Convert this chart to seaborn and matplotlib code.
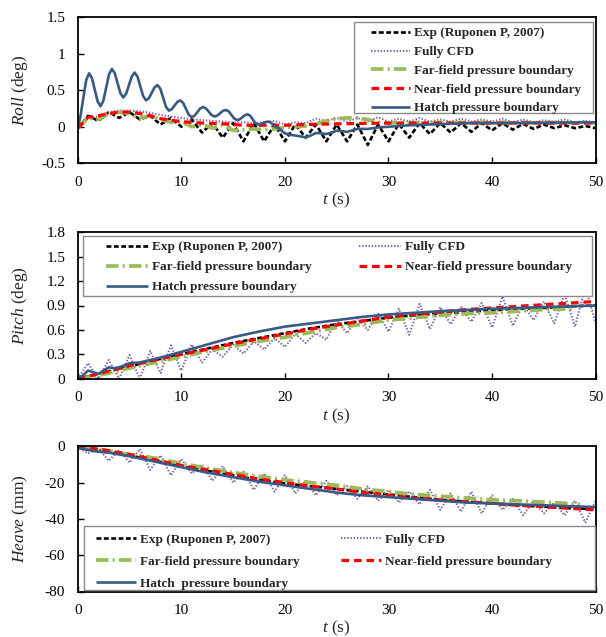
import matplotlib
matplotlib.use("Agg")
import matplotlib.pyplot as plt
import seaborn as sns
from matplotlib.patches import Rectangle

# ---------------- data ----------------
labels = ["Exp (Ruponen P, 2007)", "Fully CFD", "Far-field pressure boundary",
          "Near-field pressure boundary", "Hatch pressure boundary"]
labels_heave = ["Exp (Ruponen P, 2007)", "Fully CFD", "Far-field pressure boundary",
                "Near-field pressure boundary", "Hatch  pressure boundary"]

t_1s = list(range(51))

# Roll (deg)
roll_exp = [-0.03, 0.15, 0.08, 0.20, 0.12, 0.20, 0.10, 0.15, 0.03, 0.12,
            0.00, 0.10, -0.08, 0.05, -0.15, 0.05, -0.20, 0.05, -0.20, 0.03,
            -0.20, 0.03, -0.15, 0.03, -0.20, 0.03, -0.20, 0.03, -0.25, 0.03,
            -0.20, 0.04, -0.15, 0.05, -0.10, 0.05, -0.08, 0.05, -0.07, 0.05,
            -0.05, 0.05, -0.04, 0.04, -0.03, 0.03, -0.02, 0.02, -0.02, 0.01,
            -0.02]
roll_cfd = [-0.02, 0.12, 0.14, 0.20, 0.22, 0.22, 0.21, 0.19, 0.16, 0.14,
            0.12, 0.10, 0.09, 0.08, 0.07, 0.06, 0.06, 0.05, 0.06, 0.08,
            0.03, 0.06, 0.05, 0.11, 0.08, 0.12, 0.07, 0.12, 0.07, 0.13,
            0.07, 0.11, 0.07, 0.12, 0.07, 0.10, 0.07, 0.11, 0.07, 0.10,
            0.07, 0.11, 0.06, 0.10, 0.06, 0.09, 0.07, 0.10, 0.06, 0.08,
            0.06]
roll_far = [-0.02, 0.12, 0.10, 0.18, 0.20, 0.18, 0.12, 0.15, 0.10, 0.06,
            0.08, 0.00, 0.03, -0.02, 0.02, -0.05, -0.04, -0.03, -0.04, -0.03,
            -0.01, 0.00, 0.01, 0.04, 0.08, 0.11, 0.12, 0.12, 0.10, 0.06,
            0.05, 0.06, 0.05, 0.06, 0.05, 0.06, 0.05, 0.06, 0.05, 0.06,
            0.05, 0.06, 0.05, 0.06, 0.05, 0.06, 0.05, 0.06, 0.05, 0.06,
            0.05]
roll_near_t = [0, 1, 2, 3, 4, 5, 6, 7, 8, 9, 10, 12, 14, 16, 18, 20, 22, 25, 30, 35, 40, 45, 50]
roll_near = [-0.02, 0.13, 0.15, 0.18, 0.20, 0.20, 0.18, 0.15, 0.11, 0.09, 0.07, 0.05,
             0.04, 0.02, 0.02, 0.02, 0.03, 0.04, 0.05, 0.05, 0.05, 0.05, 0.05]
roll_hatch_t = [0, 0.275, 0.55, 0.825, 1.1, 1.375, 1.65, 1.925, 2.2, 2.475,
                2.75, 3.025, 3.3, 3.575, 3.85, 4.125, 4.4, 4.675, 4.95, 5.225,
                5.5, 5.775, 6.05, 6.325, 6.6, 6.875, 7.15, 7.425, 7.7, 7.975,
                8.25, 8.525, 8.8, 9.075, 9.35, 9.625, 9.9, 10.175, 10.45, 10.725,
                11.0, 11.275, 11.55, 11.825, 12.1, 12.375, 12.65, 12.925, 13.2, 13.475,
                13.75, 14.025, 14.3, 14.575, 14.85, 15.125, 15.4, 15.65, 15.9, 16.15,
                16.4, 16.65, 16.9, 17.15, 17.4, 17.65, 17.9, 18.15, 18.4, 18.65,
                18.9, 19.15, 19.4, 20, 20.5, 21, 22, 22.5, 23, 23.5,
                24, 24.5, 25, 25.5, 26, 26.5, 27, 28, 29, 30,
                32, 34, 36, 38, 40, 45, 50]
roll_hatch = [-0.02, 0.15, 0.40, 0.64, 0.73, 0.664, 0.505, 0.346, 0.28, 0.354,
              0.535, 0.716, 0.79, 0.733, 0.595, 0.457, 0.40, 0.45, 0.57, 0.69,
              0.74, 0.684, 0.55, 0.416, 0.36, 0.391, 0.465, 0.539, 0.57, 0.519,
              0.395, 0.271, 0.22, 0.24, 0.29, 0.34, 0.36, 0.326, 0.245, 0.164,
              0.13, 0.15, 0.20, 0.25, 0.27, 0.251, 0.205, 0.159, 0.14, 0.153,
              0.185, 0.217, 0.23, 0.21, 0.16, 0.11, 0.09, 0.102, 0.13, 0.158,
              0.17, 0.15, 0.10, 0.05, 0.03, 0.036, 0.05, 0.064, 0.07, 0.057,
              0.025, -0.007, -0.02, -0.09, -0.11, -0.12, -0.145, -0.12, -0.085, -0.09,
              -0.10, -0.08, -0.055, -0.06, -0.07, -0.05, -0.03, -0.03, -0.01, 0.00,
              0.02, 0.03, 0.04, 0.05, 0.05, 0.055, 0.06]

# Pitch (deg)
pitch_t = [0, 2, 5, 7.5, 10, 12.5, 15, 17.5, 20, 22.5, 25, 27.5, 30, 32.5, 35,
           37.5, 40, 42.5, 45, 47.5, 50]
pitch_exp = [0, 0.06, 0.15, 0.23, 0.30, 0.37, 0.44, 0.50, 0.56, 0.62, 0.67, 0.71,
             0.75, 0.78, 0.80, 0.82, 0.84, 0.86, 0.87, 0.89, 0.90]
pitch_near = [0, 0.06, 0.16, 0.23, 0.30, 0.36, 0.43, 0.49, 0.55, 0.61, 0.66, 0.71,
              0.76, 0.79, 0.82, 0.85, 0.87, 0.89, 0.91, 0.93, 0.95]
pitch_far_t = [0, 2, 5, 7.5, 10, 12.5, 15, 17.5, 20, 22.5, 25, 27.5, 30, 32.5, 35,
               37.5, 40, 42.5, 45, 48]
pitch_far = [0, 0.04, 0.13, 0.20, 0.27, 0.34, 0.40, 0.46, 0.51, 0.57, 0.63, 0.67,
             0.72, 0.75, 0.78, 0.80, 0.81, 0.83, 0.85, 0.86]
pitch_hatch_t = [0, 0.5, 1, 1.5, 2, 2.5, 3, 3.5, 4, 5, 6, 7, 8, 10, 12.5, 15, 17.5,
                 20, 22.5, 25, 27.5, 30, 35, 40, 45, 50]
pitch_hatch = [0, 0.04, 0.10, 0.08, 0.06, 0.10, 0.14, 0.13, 0.14, 0.19, 0.20, 0.23,
               0.26, 0.33, 0.42, 0.51, 0.58, 0.64, 0.68, 0.72, 0.76, 0.79, 0.83,
               0.86, 0.88, 0.90]
pitch_cfd = [0.00, 0.19, 0.00, 0.23, 0.00, 0.29, 0.00, 0.34, 0.07, 0.41,
             0.10, 0.42, 0.20, 0.36, 0.27, 0.42, 0.31, 0.46, 0.36, 0.50,
             0.39, 0.55, 0.44, 0.56, 0.48, 0.72, 0.56, 0.74, 0.60, 0.80,
             0.58, 0.86, 0.54, 0.92, 0.61, 0.88, 0.67, 0.88, 0.70, 0.93,
             0.63, 1.01, 0.65, 0.91, 0.72, 0.95, 0.68, 1.04, 0.64, 1.13,
             0.68]

# Heave (mm)
heave_t = [0, 2.5, 5, 7.5, 10, 12.5, 15, 17.5, 20, 22.5, 25, 27.5, 30, 32.5, 35,
           37.5, 40, 42.5, 45, 47.5, 50]
heave_exp = [0, -2.5, -5, -8, -11, -13.5, -16, -18.5, -20.5, -22, -23.5, -25,
             -26.5, -28, -29.5, -30.5, -31.5, -32.5, -33.3, -34, -34.7]
heave_near = [0, -2, -4.5, -7.5, -10.5, -13, -15.5, -18, -20, -22, -23.5, -25.5,
              -27, -28.5, -29.5, -30.5, -31.5, -32.5, -33.3, -34.2, -35]
heave_far_t = [0, 2.5, 5, 7.5, 10, 12.5, 15, 17.5, 20, 22.5, 25, 27.5, 30, 32.5,
               35, 37.5, 40, 42.5, 45, 47.5, 48.5]
heave_far = [0, -2, -4.5, -6.5, -9.5, -12, -14.5, -16.5, -18.5, -20, -21.5, -23.5,
             -25, -26.5, -27.5, -28.5, -29.5, -30, -30.8, -31.5, -32]
heave_hatch_t = [0, 1, 2, 3, 4, 5, 7.5, 10, 12.5, 15, 17.5, 20, 22.5, 25, 27.5, 30,
                 32.5, 35, 37.5, 40, 42.5, 45, 47.5, 50]
heave_hatch = [-1, -2, -3, -3.5, -4.5, -5.5, -8.5, -11.5, -14.5, -17, -19.5, -21.5,
               -23.5, -25.5, -27, -28, -29, -30, -31, -31.5, -32, -32.5, -33, -33.5]
heave_cfd = [0, -4, -1, -8, -2, -9, -1.5, -13, -5, -16,
             -7, -15, -10, -19, -11, -20, -14, -24, -15, -25,
             -16, -26, -19, -27, -19, -27, -22, -29, -22, -30,
             -24, -31, -25, -32, -24, -35, -26, -36, -25, -37,
             -27, -35, -29, -38, -30, -37, -31, -38, -30, -42,
             -30]

x_ticks = [0, 10, 20, 30, 40, 50]
roll_ticks = [-0.5, 0, 0.5, 1, 1.5]
roll_ticklabels = ["-0.5", "0", "0.5", "1", "1.5"]
pitch_ticks = [0, 0.3, 0.6, 0.9, 1.2, 1.5, 1.8]
pitch_ticklabels = ["0", "0.3", "0.6", "0.9", "1.2", "1.5", "1.8"]
heave_ticks = [-80, -60, -40, -20, 0]
heave_ticklabels = ["-80", "-60", "-40", "-20", "0"]

# ---------------- style ----------------
sns.set_theme(style="white")
plt.rcParams["font.family"] = ["Liberation Serif", "DejaVu Serif"]
plt.rcParams["mathtext.fontset"] = "custom"
plt.rcParams["mathtext.it"] = "Liberation Serif:italic"
plt.rcParams["mathtext.rm"] = "Liberation Serif"
plt.rcParams["lines.scale_dashes"] = False
plt.rcParams["lines.solid_capstyle"] = "butt"

STY = {
    "exp": dict(color="black", lw=1.9, ls=(0, (3.5, 1.8))),
    "cfd": dict(color="#8064A2", lw=1.5, ls=(0, (1.0, 1.3))),
    "far": dict(color="#9BBB59", lw=2.7, ls=(0, (9, 3, 1.5, 3))),
    "near": dict(color="#FF0000", lw=2.3, ls=(0, (5.5, 3.5))),
    "hatch": dict(color="#3A5A84", lw=1.9, ls="-"),
}

fig = plt.figure(figsize=(6.06, 6.37), dpi=100)
L, W = 77.7 / 606, 518 / 606
ax_roll = fig.add_axes([L, 1 - 163.3 / 637, W, 146.3 / 637])
ax_pitch = fig.add_axes([L, 1 - 378.7 / 637, W, 146.4 / 637])
ax_heave = fig.add_axes([L, 1 - 591.5 / 637, W, 145.2 / 637])


def draw(ax, series):
    lines = []
    for key, t, v in series:
        sns.lineplot(x=t, y=v, ax=ax, sort=False, estimator=None, **STY[key])
        lines.append(ax.get_lines()[-1])
    return lines


def style_axes(ax, ylim, yticks, yticklabels, ylabel):
    ax.set_xlim(0, 50)
    ax.set_ylim(*ylim)
    ax.set_xticks(x_ticks)
    ax.set_xticklabels([str(v) for v in x_ticks])
    ax.set_yticks(yticks)
    ax.set_yticklabels(yticklabels)
    ax.tick_params(direction="in", length=4, width=1.0, pad=9, labelsize=11,
                   colors="black", bottom=True, left=True, top=False, right=False)
    for s in ax.spines.values():
        s.set_color("black")
        s.set_linewidth(1.3)
    ax.set_ylabel(ylabel, fontsize=12.5)
    ax.set_xlabel(r"$\it{t}$ (s)", fontsize=12.5)
    ax.yaxis.set_label_coords(-0.092, 0.5)
    ax.xaxis.set_label_coords(0.5, -0.19)
    ax.set_facecolor("white")


def legend_box(ax, x0, y0, w, h):
    ax.add_patch(Rectangle((x0, y0), w, h, transform=ax.transAxes, facecolor="white",
                           edgecolor="#8a8a8a", lw=1.0, zorder=4, clip_on=False))


leg_prop = dict(family="Liberation Serif", weight="bold", size=9.5)

# Roll
lr = draw(ax_roll, [("exp", t_1s, roll_exp), ("cfd", t_1s, roll_cfd),
                    ("far", t_1s, roll_far), ("near", roll_near_t, roll_near),
                    ("hatch", roll_hatch_t, roll_hatch)])
style_axes(ax_roll, (-0.5, 1.5), roll_ticks, roll_ticklabels, r"$\it{Roll}$ (deg)")
legend_box(ax_roll, 0.533, 0.342, 0.462, 0.624)
leg = ax_roll.legend(lr, labels, loc="upper left", bbox_to_anchor=(0.566, 0.93),
                     prop=leg_prop, frameon=False, handlelength=3.0, handletextpad=0.3,
                     labelspacing=0.49, borderpad=0, borderaxespad=0)
leg.set_zorder(5)

# Pitch
lp = draw(ax_pitch, [("exp", pitch_t, pitch_exp), ("cfd", t_1s, pitch_cfd),
                     ("far", pitch_far_t, pitch_far), ("near", pitch_t, pitch_near),
                     ("hatch", pitch_hatch_t, pitch_hatch)])
style_axes(ax_pitch, (0, 1.8), pitch_ticks, pitch_ticklabels, r"$\it{Pitch}$ (deg)")
legend_box(ax_pitch, 0.0102, 0.565, 0.983, 0.41)
order = [0, 2, 4, 1, 3]
leg = ax_pitch.legend([lp[i] for i in order], [labels[i] for i in order], ncol=2,
                      loc="upper left", bbox_to_anchor=(0.0546, 0.941), prop=leg_prop,
                      frameon=False, handlelength=3.2, handletextpad=0.3,
                      labelspacing=0.6, columnspacing=3.55, borderpad=0, borderaxespad=0)
leg.set_zorder(5)

# Heave
lh = draw(ax_heave, [("exp", heave_t, heave_exp), ("cfd", t_1s, heave_cfd),
                     ("far", heave_far_t, heave_far), ("near", heave_t, heave_near),
                     ("hatch", heave_hatch_t, heave_hatch)])
style_axes(ax_heave, (-80, 0), heave_ticks, heave_ticklabels, r"$\it{Heave}$ (mm)")
legend_box(ax_heave, 0.0127, 0.0103, 0.986, 0.441)
leg = ax_heave.legend([lh[i] for i in order], [labels_heave[i] for i in order], ncol=2,
                      loc="upper left", bbox_to_anchor=(0.0353, 0.401), prop=leg_prop,
                      frameon=False, handlelength=3.0, handletextpad=0.3,
                      labelspacing=0.74, columnspacing=3.2, borderpad=0, borderaxespad=0)
leg.set_zorder(5)

fig.savefig("out.png", dpi=100, facecolor="white")
